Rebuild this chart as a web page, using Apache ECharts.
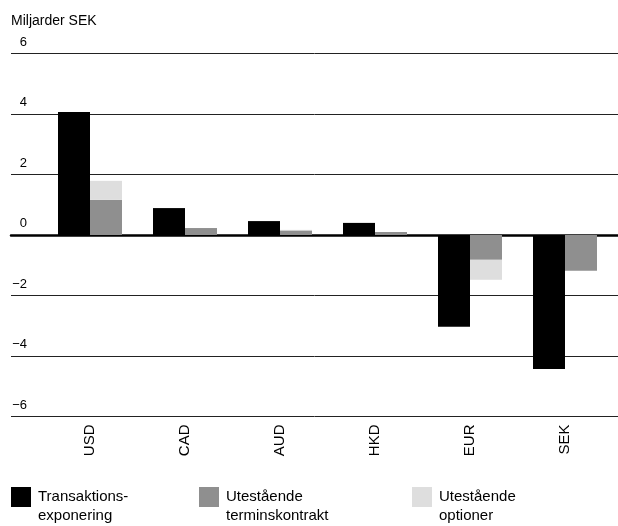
<!DOCTYPE html>
<html>
<head>
<meta charset="utf-8">
<style>
    html, body { margin: 0; padding: 0; background: #fff; }
    #chart { width: 618px; height: 526px; }
</style>
</head>
<body>
<div id="chart"></div>
<script src="https://cdn.jsdelivr.net/npm/echarts@6/dist/echarts.min.js"></script>
<script>
    // data (Miljarder SEK)
    var currencies = ['USD', 'CAD', 'AUD', 'HKD', 'EUR', 'SEK'];
    var transaktion = [4.07, 0.89, 0.46, 0.40, -3.03, -4.43];
    var termin = [1.16, 0.23, 0.15, 0.10, -0.82, -1.18];
    var optioner = [0.63, 0, 0.02, 0, -0.66, 0];
    var seriesNames = ['Transaktionsexponering', 'Utestående terminskontrakt', 'Utestående optioner'];
    var legendLabels = ['Transaktions-\nexponering', 'Utestående\nterminskontrakt', 'Utestående\noptioner'];
    var yTicks = { min: -6, max: 6, step: 2 };

    var font = '"Liberation Sans", Arial, Helvetica, sans-serif';
    var colors = ['#000000', '#8f8f8f', '#dedede'];

    // square at the top of a taller box, so the icon lines up with the first text line
    var topSquare = 'path://M0,0 L20,0 L20,20 L0,20 Z M0,38.99 L0.01,38.99 L0.01,39 L0,39 Z';

    var myChart = echarts.init(document.getElementById('chart'));

    // one legend per item so each can sit at its own x
    var legendLeft = [11, 199, 412];
    var legends = seriesNames.map(function (n, i) {
        return {
            data: [n],
            left: legendLeft[i],
            top: 487,
            padding: 0,
            itemWidth: 20,
            itemHeight: 39,
            icon: topSquare,
            selectedMode: false,
            formatter: function () { return legendLabels[i]; },
            textStyle: {
                fontFamily: font,
                fontSize: 15,
                color: '#000',
                lineHeight: 19,
                padding: [0, 0, 0, 2]
            }
        };
    });

    var option = {
        animation: false,
        backgroundColor: '#fff',
        textStyle: { fontFamily: font },
        title: {
            text: 'Miljarder SEK',
            left: 6,
            top: 9,
            textStyle: { fontFamily: font, fontSize: 14, fontWeight: 'normal', color: '#000' }
        },
        legend: legends,
        grid: [
            // full-width grid for the gridlines and y labels
            { left: 11, right: 0, top: 53.5, bottom: 109.5 },
            // narrower grid for the bars
            { left: 42.5, right: 5.5, top: 53.5, bottom: 109.5 }
        ],
        xAxis: [
            {
                gridIndex: 0,
                type: 'value',
                min: 0, max: 1,
                axisLine: { show: true, onZero: true, lineStyle: { color: '#000', width: 2.5 } },
                axisTick: { show: false },
                axisLabel: { show: false },
                splitLine: { show: false }
            },
            {
                gridIndex: 1,
                type: 'category',
                data: currencies,
                axisLine: { show: false },
                axisTick: { show: false },
                axisLabel: {
                    rotate: 90,
                    margin: 8,
                    fontFamily: font,
                    fontSize: 15,
                    color: '#000'
                }
            }
        ],
        yAxis: [
            {
                gridIndex: 0,
                type: 'value',
                min: yTicks.min,
                max: yTicks.max,
                interval: yTicks.step,
                axisLine: { show: false },
                axisTick: { show: false },
                axisLabel: {
                    inside: true,
                    margin: 16,
                    align: 'right',
                    verticalAlign: 'bottom',
                    padding: [0, 0, 5, 0],
                    fontFamily: font,
                    fontSize: 13,
                    color: '#000',
                    formatter: function (v) {
                        return v < 0 ? '\u2212' + Math.abs(v) : String(v);
                    }
                },
                splitLine: { show: true, lineStyle: { color: '#222', width: 1 } }
            },
            {
                gridIndex: 1,
                type: 'value',
                min: yTicks.min,
                max: yTicks.max,
                interval: yTicks.step,
                show: false,
                splitLine: { show: false }
            }
        ],
        series: [
            {
                name: seriesNames[0],
                type: 'bar',
                xAxisIndex: 1,
                yAxisIndex: 1,
                barWidth: 32,
                barGap: '0%',
                itemStyle: { color: colors[0] },
                data: transaktion
            },
            {
                name: seriesNames[1],
                type: 'bar',
                stack: 'hedge',
                xAxisIndex: 1,
                yAxisIndex: 1,
                barWidth: 32,
                barGap: '0%',
                itemStyle: { color: colors[1] },
                data: termin
            },
            {
                name: seriesNames[2],
                type: 'bar',
                stack: 'hedge',
                xAxisIndex: 1,
                yAxisIndex: 1,
                barWidth: 32,
                barGap: '0%',
                itemStyle: { color: colors[2] },
                data: optioner
            }
        ]
    };
    myChart.setOption(option);
</script>
</body>
</html>
